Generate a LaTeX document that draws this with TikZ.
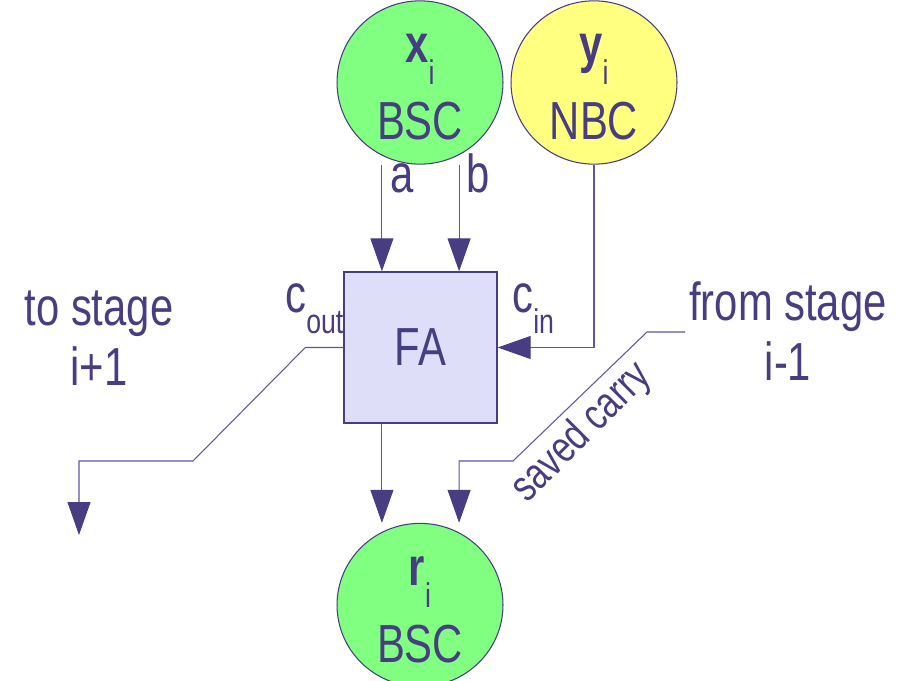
\documentclass[tikz,border=0pt]{standalone}
\usepackage{fontspec}
\setmainfont{Liberation Sans}[FakeStretch=0.78]
\usetikzlibrary{arrows.meta,positioning,shapes.geometric,calc}
\definecolor{ink}{RGB}{72,61,130}
\definecolor{wire}{RGB}{96,86,156}
\definecolor{bscgreen}{RGB}{128,255,128}
\definecolor{nbcyellow}{RGB}{255,255,128}
\definecolor{fafill}{RGB}{222,222,248}
\newcommand{\bigfs}{\fontsize{30.5}{43.8}\selectfont}
\newcommand{\lblfs}{\fontsize{30.5}{34}\selectfont}
\newcommand{\lowsub}[1]{\raisebox{-12.5pt}{\fontsize{19.5}{19.5}\selectfont #1}}
\newcommand{\topline}{\rule{0pt}{0.76cm}}
\tikzset{
  digit/.style={ellipse, draw=ink, line width=0.6pt, text=ink, align=center, font=\bigfs,
                minimum width=3.32cm, minimum height=3.02cm, inner sep=0pt},
  box/.style={draw=ink, line width=0.8pt, fill=fafill, text=ink, font=\bigfs,
              minimum width=3.06cm, minimum height=3.02cm},
  lbl/.style={text=ink, align=center, font=\lblfs, inner sep=0pt},
  arr/.style={-{Triangle[length=0.66cm, width=0.46cm, color=ink]}, draw=wire, line width=0.6pt}
}
\begin{document}
\begin{tikzpicture}[x=0.02cm, y=-0.02cm]
    \useasboundingbox (0,0) rectangle (909,680);
    \node[box] (fa) at (420.5,347.5) {FA};
    \node[digit, fill=bscgreen] (xi) at (420,82.5) {\topline{\bfseries x}\lowsub{i}\\BSC};
    \node[digit, fill=nbcyellow] (yi) at (594,82.5) {\topline{\bfseries y}\lowsub{i}\\NBC};
    \node[digit, fill=bscgreen] (ri) at (420,605) {\topline{\bfseries r}\lowsub{i}\\BSC};
    \coordinate (qa) at ($(fa.north west)!0.25!(fa.north east)$);
    \coordinate (qb) at ($(fa.north west)!0.75!(fa.north east)$);
    \node[lbl, anchor=base] (la) at (402,192) {a};
    \node[lbl, anchor=base] (lb) at (478,192) {b};
    \node[lbl, anchor=base west] (cout) at (285,312) {c\lowsub{out}};
    \node[lbl, anchor=base west] (cin) at (512,312) {c\lowsub{in}};
    \node[lbl] (next) at (99,338) {to stage\\i+1};
    \node[lbl] (prev) at (788,331) {from stage\\i-1};
    \node[lbl, font=\fontsize{25}{30}\selectfont, rotate=45] (saved) at (582,433) {saved carry};
    \coordinate (nextend) at (79,535);
    \coordinate (prevend) at (685,332);
    \draw[arr] (xi.south -| qa) -- (qa);
    \draw[arr] (xi.south -| qb) -- (qb);
    \draw[arr] (yi.south) |- (fa.east);
    \draw[arr] (fa.west) -- ++(-38,0) -- (193,461) -| (nextend);
    \draw[arr] (fa.south -| qa) -- (qa |- ri.north);
    \draw[arr] (prevend) -- ++(-38,0) -- (513,461) -| (qb |- ri.north);
  \end{tikzpicture}
\end{document}
